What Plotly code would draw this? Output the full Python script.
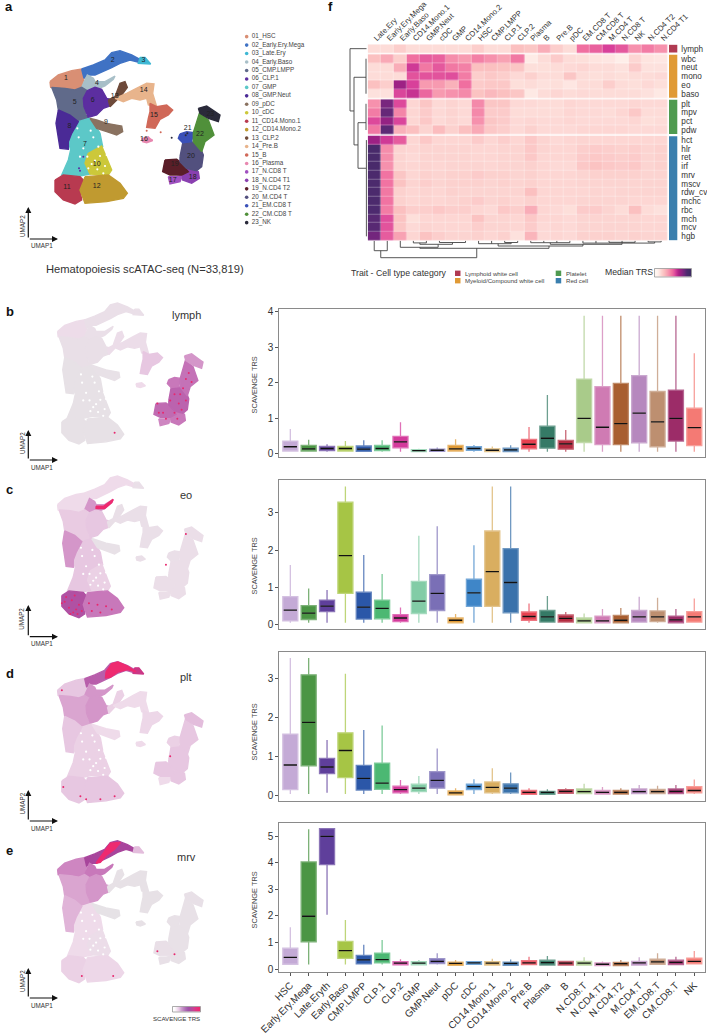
import plotly.graph_objects as go

W, H = 707, 1034
FONT = "Liberation Sans, Arial, sans-serif"

# ---------- panel a ----------
cluster_names = ["01_HSC","02_Early.Ery.Mega","03_Late.Ery","04_Early.Baso","05_CMP.LMPP","06_CLP.1","07_GMP","08_GMP.Neut","09_pDC","10_cDC","11_CD14.Mono.1","12_CD14.Mono.2","13_CLP.2","14_Pre.B","15_B","16_Plasma","17_N.CD8 T","18_N.CD4 T1","19_N.CD4 T2","20_M.CD4 T","21_EM.CD8 T","22_CM.CD8 T","23_NK"]
cluster_colors = ["#d98f74","#3f72c4","#3fb8d4","#a8bfc8","#606a8a","#5c2ea0","#5cc8c8","#4a2a96","#8a7260","#ccc83a","#b83a50","#c09a30","#6e4a3a","#e8b48c","#d06858","#e888b0","#a050c0","#8a40b0","#5a1e28","#52507e","#3a50b8","#50903a","#2a2a3a"]
cluster_outlines = [
 [(150,245),(175,225),(215,212),(245,207),(252,235),(245,262),(225,270),(195,265),(170,264),(152,262)],
 [(245,207),(280,195),(315,180),(335,158),(360,152),(395,165),(420,178),(420,188),(390,180),(360,190),(335,203),(310,215),(285,225),(262,225),(252,235)],
 [(420,172),(435,172),(452,192),(430,192),(415,190)],
 [(245,262),(262,225),(280,235),(285,245),(315,245),(345,228),(340,238),(315,258),(290,268),(265,275),(245,275)],
 [(155,262),(195,265),(225,270),(245,262),(262,272),(248,300),(258,345),(268,355),(235,365),(210,345),(175,330),(170,300)],
 [(262,272),(285,262),(305,268),(320,295),(340,300),(330,318),(310,325),(290,345),(265,352),(252,320),(250,295)],
 [(235,365),(268,355),(285,375),(300,400),(308,440),(270,460),(255,490),(270,522),(240,528),(185,525),(205,480),(212,450),(205,425),(215,400)],
 [(175,330),(210,345),(235,365),(215,400),(205,425),(205,448),(180,445),(175,410),(168,370)],
 [(270,355),(290,360),(320,370),(365,378),(368,395),(350,405),(320,395),(290,385)],
 [(265,460),(305,438),(335,510),(325,525),(270,522),(255,490)],
 [(165,540),(190,525),(240,530),(255,545),(240,570),(245,600),(225,612),(190,600),(165,575)],
 [(255,530),(325,525),(360,550),(382,580),(370,595),(320,605),(255,610),(240,570),(250,545)],
 [(325,300),(345,290),(360,250),(375,245),(382,262),(365,285),(345,305),(330,320)],
 [(345,295),(380,280),(415,262),(440,250),(462,252),(458,280),(470,320),(445,315),(440,295),(420,300),(395,295),(370,305)],
 [(450,310),(470,320),(500,315),(518,330),(505,345),(480,358),(465,385),(440,382),(445,355),(450,335)],
 [(425,415),(445,412),(458,422),(440,428),(428,425)],
 [(505,530),(530,530),(548,525),(540,545),(510,552)],
 [(548,520),(565,505),(595,515),(598,535),(575,550),(548,540)],
 [(495,480),(530,478),(540,485),(565,515),(545,525),(510,525),(488,515)],
 [(540,470),(548,430),(575,425),(600,440),(610,465),(605,500),(590,512),(560,505),(540,485)],
 [(540,402),(560,395),(580,398),(575,425),(548,428),(535,415)],
 [(580,398),(598,340),(625,360),(642,405),(615,425),(605,455),(580,425)],
 [(595,325),(620,318),(645,335),(660,345),(655,365),(625,355),(600,340)],
]
cluster_label_x = [198,338,430,291,224,278,255,208,318,290,201,290,344,431,462,432,518,578,524,573,563,600,631]
cluster_label_y = [236,180,182,250,308,300,433,379,366,494,562,559,290,271,346,417,541,533,494,470,386,403,343]
gap_points = [(262,470),(285,482),(300,468),(315,498),(265,505),(292,508),(250,445),(240,470),(236,412),(272,392),(310,520),(330,480),(280,412),(232,385),(295,440),(320,465),(275,492)]
stray_x = [237,240,250,515,562,557,445,455,482,440]
stray_y = [505,512,470,413,400,406,412,420,397,392]
stray_colors = ["#5c2ea0","#5c2ea0","#5c2ea0","#2a2a3a","#2a2a3a","#2a2a3a","#e888b0","#e888b0","#d06858","#d06858"]

# ---------- panels b-e UMAP shading ----------
lymph_cluster = [.16,.1,.1,.1,.08,.08,.03,.03,.05,.03,.03,.03,.15,.15,.3,.2,.55,.6,.65,.68,.6,.62,.5]
eo_cluster = [.2,.2,.1,.5,.28,.3,.3,.5,.05,.25,.75,.6,.08,.1,.1,.1,.12,.12,.12,.12,.1,.12,.12]
plt_cluster = [.3,.7,.9,.5,.45,.5,.25,.3,.2,.25,.3,.3,.25,.2,.22,.2,.2,.3,.3,.3,.25,.3,.35]
mrv_cluster = [.55,.8,.35,.6,.45,.5,.2,.4,.02,.15,.25,.22,.03,.03,.03,.03,.06,.05,.08,.05,.05,.05,.06]
eo_hot = [(285,250),(312,250),(345,228),(340,238),(315,258),(285,258)]
plt_hot = [(320,185),(340,158),(362,153),(395,166),(425,185),(395,178),(360,186),(335,203),(318,205)]
mrv_hot = [(285,225),(300,205),(335,160),(370,158),(350,180),(320,200),(300,222)]
lymph_specks = [(500,480),(520,510),(560,450),(575,480),(590,430),(600,470),(545,470),(530,530),(570,530),(585,500),(610,380),(600,400),(560,510),(505,510),(580,450),(620,410),(350,575)]
eo_specks = [(175,560),(190,580),(205,595),(220,600),(180,545),(200,555),(225,570),(215,585),(270,590),(300,595),(340,585),(260,565),(195,600),(235,590),(165,565),(320,575),(290,570),(210,540),(600,340),(530,440)]
plt_specks = [(170,560),(350,590),(300,600),(250,600),(545,460),(165,245),(230,590)]
mrv_specks = [(500,510),(560,520),(345,590),(235,590)]
umap_scale = [[0,"#e6e3e6"],[.2,"#efdbea"],[.4,"#e0b4d8"],[.6,"#c878ba"],[.8,"#a8459c"],[1,"#ee2a70"]]

# ---------- boxplots ----------
box_labels = ["HSC","Early.Ery.Mega","Late.Eryth","Early.Baso","CMP.LMPP","CLP.1","CLP.2","GMP","GMP.Neut","pDC","cDC","CD14.Mono.1","CD14.Mono.2","Pre.B","Plasma","B","N.CD8.T","N.CD4.T1","N.CD4.T2","M.CD4.T","EM.CD8.T","CM.CD8.T","NK"]
box_colors = ["#c4aad6","#4b9544","#5f3f9b","#a6c545","#2b57a8","#4cb873","#d43a9b","#82cca6","#7a6fb6","#e09a35","#3f86c8","#d9ae60","#3a72ab","#e8404f","#357a66","#b32b40","#a9cb8a","#cf7bb3","#a85e30","#b688be","#bd8f70","#9c2c68","#f47a74"]

lymph_q1 = [.07,.07,.08,.07,.06,.08,.16,.05,.06,.07,.09,.05,.05,.13,.15,.12,.31,.25,.25,.3,.19,.35,.22]
lymph_med = [.19,.13,.14,.14,.12,.14,.33,.08,.09,.13,.14,.09,.1,.26,.43,.27,.99,.74,.84,1.14,.89,.99,.73]
lymph_q3 = [.35,.23,.2,.2,.21,.23,.48,.11,.12,.23,.19,.13,.15,.4,.77,.37,2.1,1.89,1.98,2.2,1.75,1.79,1.28]
lymph_hi = [.69,.39,.26,.35,.37,.37,.88,.13,.17,.4,.24,.2,.23,.75,1.65,.66,3.89,3.89,3.89,3.89,3.89,3.89,2.83]
lymph_lo = [.05]*23

eo_q1 = [.1,.14,.35,.84,.15,.16,.08,.3,.38,.05,.49,.49,.32,.12,.07,.07,.05,.05,.05,.07,.08,.05,.07]
eo_med = [.39,.31,.5,1.85,.47,.44,.18,.63,.84,.12,.85,1.42,1.13,.22,.21,.17,.1,.1,.12,.21,.21,.13,.21]
eo_q3 = [.75,.51,.66,3.28,.87,.66,.27,1.16,1.34,.18,1.22,2.51,2.04,.34,.38,.26,.18,.23,.25,.38,.37,.23,.35]
eo_hi = [1.6,.97,.93,3.7,1.87,1.36,.46,2.38,2.64,.29,2.13,3.7,3.7,.57,.77,.34,.3,.42,.45,.75,.72,.42,.7]
eo_lo = [.05]*23

plt_q1 = [.16,.77,.57,.47,.15,.17,.08,.11,.2,.03,.16,.08,.08,.04,.04,.07,.06,.05,.05,.06,.06,.06,.08]
plt_med = [.79,1.88,.74,1.16,.45,.33,.16,.2,.4,.08,.24,.22,.2,.09,.09,.12,.11,.09,.09,.11,.11,.12,.14]
plt_q3 = [1.58,3.09,.96,1.61,.78,.84,.25,.3,.62,.13,.3,.36,.31,.14,.12,.16,.18,.14,.14,.18,.17,.18,.24]
plt_hi = [3.52,3.52,1.43,3.12,1.68,1.8,.41,.51,1.21,.2,.43,.71,.6,.2,.17,.2,.31,.23,.2,.28,.26,.28,.42]
plt_lo = [.05,.05,.08,.05,.05,.05,.05,.05,.05,.02,.05,.05,.05,.03,.03,.05,.05,.04,.04,.05,.05,.05,.05]

mrv_q1 = [.19,1.03,3.93,.41,.2,.24,.17,.17,.21,.15,.19,.16,.15,.18,.16,.16,.16,.14,.14,.16,.19,.18,.2]
mrv_med = [.45,1.99,4.99,.7,.35,.36,.23,.23,.3,.22,.24,.23,.22,.24,.25,.23,.23,.19,.21,.24,.28,.26,.3]
mrv_q3 = [.79,4.03,5.28,1.05,.52,.61,.29,.29,.4,.27,.29,.29,.27,.32,.34,.3,.3,.24,.26,.3,.38,.34,.42]
mrv_hi = [1.58,5.25,5.28,1.85,.92,1.1,.38,.35,.6,.35,.31,.4,.37,.47,.5,.3,.45,.29,.35,.45,.6,.47,.69]
mrv_lo = [.18,.18,2.05,.18,.18,.18,.16,.16,.18,.14,.18,.15,.14,.17,.15,.15,.15,.13,.13,.15,.18,.17,.19]

# ---------- heatmap ----------
heat_cols = ["Late.Ery","Early.Ery.Mega","Early.Baso","CD14.Mono.1","GMP.Neut","cDC","GMP","CD14.Mono.2","HSC","CMP.LMPP","CLP.1","CLP.2","Plasma","B","Pre.B","pDC","EM.CD8 T","CM.CD8 T","M.CD4 T","N.CD8 T","NK","N.CD4 T2","N.CD4 T1"]
group_lymph = ["lymph"]
group_white = ["wbc","neut","mono","eo","baso"]
group_platelet = ["plt","mpv","pct","pdw"]
group_red = ["hct","hlr","ret","irf","mrv","mscv","rdw_cv","mchc","rbc","mch","mcv","hgb"]
heat_lymph = [[1,1,1.5,1,1,1,1,1,1.5,1,1,2,1.8,2.5,1.5,1,4,4.3,5,4.5,3.2,3.7,3.2]]
heat_white = [
 [2,2.6,1.5,4,4.4,4.3,3.3,3,3.6,3.2,2.8,3.8,.4,1,1.6,1,.9,.7,.6,.3,1.2,.7,.6],
 [1,1,2.5,5.2,3.8,4.5,3.8,3.6,2,2,1.9,1.8,.9,.9,1,1.1,1.2,1,1,.8,1.6,.8,.8],
 [1,1,1,4.6,4.6,4.6,4.7,3.7,1.5,1.7,1.5,1.1,1.4,1,1,1.8,1,.9,1,.9,1,1,1.1],
 [2,1.5,6.3,5,3,3,2.4,4,1.6,1.7,1.7,.9,1,.8,.9,.6,1,1,1.5,1,.9,1.1,.9],
 [.8,.8,4.9,5.4,4.2,3,3.2,3.4,1.9,2.2,2,1.8,.5,1,1.2,1,1.1,1,1,1,1,.8,.5],
]
heat_platelet = [
 [3.2,7.1,4.8,1.2,1.8,1.1,1.3,1.1,3.4,1.8,1.8,1.1,1.1,1,1,1.2,1.1,1.1,1.1,1.1,1.2,1.1,1.1],
 [3.7,7.5,3.5,1.2,1.6,1.1,1.3,1.1,3.4,1.6,1.6,1,1,1,1,1.2,1.1,1.1,1,1.2,1.7,1,1],
 [4.8,6.5,4.9,1.2,1.7,1.1,1.3,1.1,3.2,1.8,1.6,1.1,1.2,1.1,1.1,1.2,1.1,1.1,1.1,1.1,1.2,.9,1],
 [3.8,7.7,2.4,2,1.3,2.1,1.4,2,2.6,1.7,1.5,1.1,1.4,1.1,1.1,1.1,1.2,1.2,1.2,1.2,1.1,1.1,1.1],
]
heat_red = [
 [6.3,5.2,4.4,1.2,1.7,1.2,1.2,1.2,1.6,1.2,1.5,1.2,1.7,1.3,1.1,1.2,1.3,1.2,1.2,1.2,1.2,1.2,1.2],
 [8.4,3.3,1.3,1.2,1.3,1.3,1.3,1.3,1.2,1.2,1.3,1.3,1.7,1.3,1.2,1.2,1.5,1.6,1.5,1.4,1.5,1.3,1.4],
 [8.4,3.3,1.3,1.1,1.3,1.3,1.3,1.3,1.2,1.2,1.3,1.3,1.7,1.2,1.2,1.2,1.6,1.7,1.6,1.5,1.6,1.3,1.4],
 [8.4,3.2,1.3,1.2,1.3,1.2,1.3,1.3,1.3,1.2,1.3,1.3,1.4,1.2,1.1,1.1,1.7,1.9,1.7,1.6,1.7,1.3,1.4],
 [8.2,3.9,1.8,1.2,1.4,1.3,1.4,1.4,1.6,1.4,1.4,1.3,1.4,1.2,1.2,1.2,1.3,1.4,1.4,1.4,1.4,1.3,1.3],
 [8.2,3.9,1.9,1.3,1.5,1.3,1.4,1.4,1.4,1.3,1.4,1.3,1.4,1.2,1.2,1.2,1.3,1.3,1.3,1.3,1.3,1.3,1.3],
 [8.2,3.8,1.4,1.2,1.3,1.2,1.4,1.3,1.3,1.3,1.3,1.3,2,1.2,1.2,1.2,1.2,1.3,1.2,1.3,1.3,1.3,1.3],
 [8.2,3.9,1.4,1.2,1.3,1.2,1.3,1.4,1.6,1.3,1.4,1.2,1.4,1.2,1.2,1.2,1.3,1.3,1.3,1.3,1.2,1.2,1.2],
 [8.1,3.7,2,1.5,1.5,1.7,1.5,1.5,1.2,1.1,1.7,1.5,2.5,1.2,1.1,.9,1.6,1.6,1.3,1,2,1,.8],
 [7.8,4.7,1.9,.9,1.2,1.2,1.2,1.2,1.9,1.3,1.3,1.2,1.7,1.2,1.2,1.1,1.3,1.3,1.3,1.3,1.3,1.2,1.2],
 [7.8,4.6,1.8,1.1,1.3,1.2,1.2,1.2,1.5,1.3,1.3,1.2,1.6,1.1,1.2,1.1,1.3,1.3,1.3,1.3,1.3,1.2,1.2],
 [7.2,4.4,2.8,1.2,1.9,1.5,1.3,1.3,1.4,1.2,1.4,.8,2.3,1.1,1.2,1.1,1.4,1.4,1.4,1.3,1.4,1.3,1.3],
]
group_colors = ["#b03a52","#e09a35","#4f9a50","#3a7fae"]
heat_scale_stops = [0,1,2,3,4,5,6,7,8,9]
heat_scale_colors = ["#fff5f0","#fddcd8","#fbc0c0","#f79ab0","#f06fa0","#d8409a","#ab1f85","#7c2580","#4f2a70","#3f2b63"]
heat_scale = [[s/9,c] for s,c in zip(heat_scale_stops,heat_scale_colors)]
trs_scale_colors = ["#ffffff","#f0dcee","#dcb8dc","#c490c8","#ae6cb4","#a050a8","#b84a9c","#d04090","#e43080","#ee2a70"]
trs_scale = [[s/9,c] for s,c in zip(heat_scale_stops,trs_scale_colors)]

# dendrograms: (height, row, height, row) and (col, height, col, height)
left_dendro = [
 (17,0,17,7.12),(17,0,0.5,0),(17,7.12,13,7.12),(13,3.27,13,11),(13,3.27,1,3.27),(13,11,9,11),
 (9,8.46,9,13.67),(9,8.46,1,8.46),(9,13.67,1,13.67),(1,1.15,1,5.15),(1,6.3,1,9.3),(0.6,10.45,0.6,21.45),
]
bottom_dendro = [
 (0.5,17,7.86,17),(0.5,17,0.5,10),(0,10,1,10),(0,10,0,0),(1,10,1,0),(7.86,17,7.86,7.6),
 (3.5,7.6,13.4,7.6),(3.5,7.6,3.5,6.6),(2,6.6,4.9,6.6),(2,6.6,2,0),(4.9,6.6,4.9,3.6),
 (3.5,3.6,6,3.6),(3.5,3.6,3.5,2.2),(3,2.2,4,2.2),(3,2.2,3,0),(4,2.2,4,0),(6,3.6,6,1.8),(5,1.8,7,1.8),(5,1.8,5,0),(7,1.8,7,0),
 (13.4,7.6,13.4,5.3),(9.5,5.3,16,5.3),(9.5,5.3,9.5,3),(8,3,10.5,3),(8,3,8,0),(10.5,3,10.5,1.8),(10,1.8,11,1.8),(10,1.8,10,0),(11,1.8,11,0),(9,3,9,0),
 (16,5.3,16,3.6),(13.5,3.6,19,3.6),(13.5,3.6,13.5,2),(12,2,15,2),(12,2,12,0),(15,2,15,0),(13,2,13,0),(14,2,14,0),
 (19,3.6,19,2.4),(16,2.4,21.5,2.4),(16,2.4,16,0),(21.5,2.4,21.5,1.2),(18,1.6,20,1.6),(18,1.6,18,0),(20,1.6,20,0),(17,2.4,17,0),(19,2.4,19,0),(21,1.2,22,1.2),(21,1.2,21,0),(22,1.2,22,0),
]
legend_items = ["Lymphoid white cell","Myeloid/Compound white cell","Platelet","Red cell"]

# ---------- helpers ----------
fig = go.Figure()
layout = dict(width=W, height=H, margin=dict(l=0,r=0,t=0,b=0,autoexpand=False), paper_bgcolor="white", plot_bgcolor="rgba(0,0,0,0)",
              showlegend=False, font=dict(family=FONT,color="#333"), annotations=[], shapes=[])
_n = [0]
def axes(x0,x1,y0,y1,xr,yr,xopts=None,yopts=None,share_x=None,share_y=None):
    _n[0]+=1; k=_n[0]
    base=dict(visible=False,fixedrange=True,automargin=False)
    xn="x%d"%k if k>1 else "x"; yn="y%d"%k if k>1 else "y"
    if share_x is None:
        d=dict(base,domain=[x0/W,x1/W],range=xr,anchor=yn); d.update(xopts or {})
        layout["xaxis%d"%k if k>1 else "xaxis"]=d
    else: xn=share_x
    if share_y is None:
        d=dict(base,domain=[1-y1/H,1-y0/H],range=yr,anchor=xn); d.update(yopts or {})
        layout["yaxis%d"%k if k>1 else "yaxis"]=d
    else: yn=share_y
    return xn,yn
def text(x,y,s,size,color="#333",anchor="center",angle=0,bold=False):
    layout["annotations"].append(dict(x=x/W,y=1-y/H,xref="paper",yref="paper",text="<b>%s</b>"%s if bold else s,showarrow=False,
        font=dict(size=size,color=color,family=FONT),xanchor=anchor,yanchor="middle",textangle=angle))
def arrow(x,y,tx,ty):
    layout["annotations"].append(dict(x=x/W,y=1-y/H,xref="paper",yref="paper",ax=tx-x,ay=ty-y,axref="pixel",ayref="pixel",text="",
        showarrow=True,arrowhead=2,arrowsize=1,arrowwidth=1.2,arrowcolor="#111",standoff=0,startstandoff=0))
def poly(pts,color,xa,ya):
    xs=[p[0] for p in pts]+[pts[0][0]]; ys=[p[1] for p in pts]+[pts[0][1]]
    fig.add_trace(go.Scatter(x=xs,y=ys,mode="lines",fill="toself",fillcolor=color,line=dict(color=color,width=1.4),
                             xaxis=xa,yaxis=ya,hoverinfo="skip",cliponaxis=False))
def mix(hexc,t):
    r,g,b=[int(hexc[i:i+2],16) for i in (1,3,5)]
    return "#%02x%02x%02x"%tuple(int(v+(255-v)*t) for v in (r,g,b))
def ramp(v):
    for (a,ca),(b,cb) in zip(umap_scale,umap_scale[1:]):
        if v<=b:
            f=(v-a)/(b-a)
            ra=[int(ca[i:i+2],16) for i in (1,3,5)]; rb=[int(cb[i:i+2],16) for i in (1,3,5)]
            return "#%02x%02x%02x"%tuple(int(p+(q-p)*f) for p,q in zip(ra,rb))
    return umap_scale[-1][1]

# ---------- panel a draw ----------
xa,ya = axes(0,320,0,290,[0,960],[870,0])
for pts,c in zip(cluster_outlines,cluster_colors): poly(pts,c,xa,ya)
fig.add_trace(go.Scatter(x=[p[0] for p in gap_points],y=[p[1] for p in gap_points],mode="markers",marker=dict(color="white",size=2.2),xaxis=xa,yaxis=ya,hoverinfo="skip"))
fig.add_trace(go.Scatter(x=stray_x,y=stray_y,mode="markers",marker=dict(color=stray_colors,size=2),xaxis=xa,yaxis=ya,hoverinfo="skip"))
fig.add_trace(go.Scatter(x=cluster_label_x,y=cluster_label_y,mode="text",text=[str(i+1) for i in range(23)],textfont=dict(size=7,color="#222",family=FONT),xaxis=xa,yaxis=ya,hoverinfo="skip"))
leg_y=[110+25.36*i for i in range(23)]
fig.add_trace(go.Scatter(x=[740]*23,y=leg_y,mode="markers",marker=dict(color=cluster_colors,size=3.6),xaxis=xa,yaxis=ya,hoverinfo="skip"))
fig.add_trace(go.Scatter(x=[755]*23,y=leg_y,mode="text",text=cluster_names,textposition="middle right",textfont=dict(size=6.3,color="#444",family=FONT),xaxis=xa,yaxis=ya,hoverinfo="skip"))
text(145,269,"Hematopoiesis scATAC-seq (N=33,819)",11.2)
arrow(28.3,207,28.3,239); arrow(58,239,28.3,239)
text(42,246,"UMAP1",6.3,"#333"); text(22,226,"UMAP2",6.3,"#333",angle=-90)
text(3,7,"a",13,"#111",anchor="left",bold=True)

# ---------- panels b-e ----------
panels=[("b","lymph",lymph_cluster,None,lymph_specks,303,444,315,311,460,430,467.5),
        ("c","eo",eo_cluster,eo_hot,eo_specks,476,617.7,495,489,636.7,605,643),
        ("d","plt",plt_cluster,plt_hot,plt_specks,661.7,803,676.7,673,821,790,828),
        ("e","mrv",mrv_cluster,mrv_hot,mrv_specks,840.7,982.7,856.7,850,998,968,1005.7)]
sx=142/498
for letter,name,vals,hot,specks,top,bot,ty,ly,oy,ay_,uy in panels:
    sy=(bot-top)/460
    xr=[120,680]; yr=[640,120]
    xa,ya=axes(61+(xr[0]-162)*sx,61+(xr[1]-162)*sx,top+(yr[1]-152)*sy,top+(yr[0]-152)*sy,xr,yr)
    for pts,v in zip(cluster_outlines,vals): poly(pts,ramp(v),xa,ya)
    if hot: poly(hot,umap_scale[-1][1],xa,ya)
    fig.add_trace(go.Scatter(x=[p[0] for p in gap_points],y=[p[1] for p in gap_points],mode="markers",marker=dict(color="white",size=2.2),xaxis=xa,yaxis=ya,hoverinfo="skip"))
    fig.add_trace(go.Scatter(x=[p[0] for p in specks],y=[p[1] for p in specks],mode="markers",marker=dict(color="#e8286e",size=2),xaxis=xa,yaxis=ya,hoverinfo="skip"))
    text(186,ty,name,11,"#333")
    text(4,ly,letter,13,"#111",anchor="left",bold=True)
    arrow(28.3,ay_,28.3,oy); arrow(58,oy,28.3,oy)
    text(42,uy,"UMAP1",6.3,"#333"); text(22,(ay_+oy)/2-2,"UMAP2",6.3,"#333",angle=-90)
xa,ya=axes(172.5,200.5,1006.5,1012,[-.5,9.5],[-.5,.5])
fig.add_trace(go.Heatmap(z=[heat_scale_stops],colorscale=trs_scale,zmin=0,zmax=9,zsmooth="best",showscale=False,xaxis=xa,yaxis=ya,hoverinfo="skip"))
layout["shapes"].append(dict(type="rect",xref="paper",yref="paper",x0=172.5/W,x1=200.5/W,y0=1-1012/H,y1=1-1006.5/H,line=dict(color="#888",width=0.7)))
text(176,1018.7,"SCAVENGE TRS",6.1,"#333")

# ---------- boxplots draw ----------
box_panels=[("lymph",lymph_q1,lymph_med,lymph_q3,lymph_lo,lymph_hi,309,457,[-.1,4.08],[0,1,2,3,4],385),
            ("eo",eo_q1,eo_med,eo_q3,eo_lo,eo_hi,480,629.3,[-.123,3.876],[0,1,2,3],566),
            ("plt",plt_q1,plt_med,plt_q3,plt_lo,plt_hi,651.7,800.7,[-.12,3.68],[0,1,2,3],732),
            ("mrv",mrv_q1,mrv_med,mrv_q3,mrv_lo,mrv_hi,822.7,971.7,[-.09,5.5],[0,1,2,3,4,5],900)]
for idx,(name,q1,med,q3,lo,hi,top,bot,yr,yt,tc) in enumerate(box_panels):
    last=idx==3
    xo=dict(visible=True,showgrid=False,zeroline=False,showline=True,mirror=True,linecolor="#8a8a8a",linewidth=1,
            tickmode="array",tickvals=list(range(23)) if last else [],ticktext=box_labels if last else [],
            tickangle=-45,tickfont=dict(size=10,color="#333",family=FONT),ticks="outside" if last else "",ticklen=3,tickcolor="#555")
    yo=dict(visible=True,showgrid=False,zeroline=False,showline=True,mirror=True,linecolor="#8a8a8a",linewidth=1,
            tickmode="array",tickvals=yt,tickfont=dict(size=10,color="#333",family=FONT),ticks="outside",ticklen=3,tickcolor="#555")
    xa,ya=axes(279.3,705.3,top,bot,[-.6,22.6],yr,xo,yo)
    for i,c in enumerate(box_colors):
        fig.add_trace(go.Box(x=[i],q1=[q1[i]],median=[med[i]],q3=[q3[i]],lowerfence=[lo[i]],upperfence=[hi[i]],width=.82,whiskerwidth=0,
                             fillcolor=c,line=dict(color=mix(c,.28),width=1.3),boxpoints=False,xaxis=xa,yaxis=ya,hoverinfo="skip"))
    fig.add_trace(go.Scatter(x=list(range(23)),y=med,mode="markers",marker=dict(symbol="line-ew",size=9.5,line=dict(color="#111",width=1.3)),xaxis=xa,yaxis=ya,hoverinfo="skip"))
    text(253.5,tc,"SCAVENGE TRS",7.4,"#444",angle=-90)
layout["boxmode"]="overlay"

# ---------- heatmap draw ----------
gap=.15
groups=[(group_lymph,heat_lymph),(group_white,heat_white),(group_platelet,heat_platelet),(group_red,heat_red)]
row_pos=[];r=0;group_pos=[]
for g,_ in groups:
    p=[r+i for i in range(len(g))]; group_pos.append(p); row_pos+=p; r=p[-1]+1+gap
all_traits=[t for g,_ in groups for t in g]
hx=dict(visible=True,showgrid=False,zeroline=False,showline=False,side="top",tickmode="array",tickvals=list(range(23)),ticktext=heat_cols,
        tickangle=-45,tickfont=dict(size=7.8,color="#333",family=FONT),ticks="",ticklabelstandoff=-1)
hy=dict(visible=True,showgrid=False,zeroline=False,showline=False,side="right",tickmode="array",tickvals=row_pos,ticktext=all_traits,
        tickfont=dict(size=8.2,color="#333",family=FONT),ticks="outside",ticklen=11,tickcolor="rgba(0,0,0,0)")
hxa,hya=axes(367.7,667.7,44.3,240.7,[-.5,22.5],[21.95,-.5],hx,hy)
for (g,m),p in zip(groups,group_pos):
    fig.add_trace(go.Heatmap(z=m,x=list(range(23)),y=p,colorscale=heat_scale,zmin=0,zmax=9,showscale=False,xgap=.3,ygap=.3,xaxis=hxa,yaxis=hya,hoverinfo="skip"))
    c=group_colors[[x[0] for x in groups].index(g)]
    layout["shapes"].append(dict(type="rect",xref="paper",yref=hya,x0=669/W,x1=677.3/W,y0=p[0]-.45,y1=p[-1]+.45,fillcolor=c,line=dict(width=0)))
def segs(lst,xa,ya):
    xs=[];ys=[]
    for a,b,c,d in lst: xs+=[a,c,None]; ys+=[b,d,None]
    fig.add_trace(go.Scatter(x=xs,y=ys,mode="lines",line=dict(color="#444",width=.9),xaxis=xa,yaxis=ya,hoverinfo="skip",cliponaxis=False))
lx,_=axes(348,367,44.3,240.7,[19,0],None,share_y=hya)
segs(left_dendro,lx,hya)
_,by=axes(367.7,667.7,240.7,259,None,[18.3,0],share_x=hxa)
segs(bottom_dendro,hxa,by)
# legend of f
text(349,272.7,"Trait - Cell type category",8.75,"#333",anchor="left")
leg_px=[(455,273.3),(455,280.7),(555.7,273.3),(555.7,280.7)]
for (lab,c,(x,y)) in zip(legend_items,group_colors,leg_px):
    layout["shapes"].append(dict(type="rect",xref="paper",yref="paper",x0=(x)/W,x1=(x+5.5)/W,y0=1-(y+2.7)/H,y1=1-(y-2.7)/H,fillcolor=c,line=dict(width=0)))
    text(x+8.3,y,lab,6.1,"#444",anchor="left")
text(602.7,272.5,"Median TRS",8.7,"#333",anchor="left")
xa,ya=axes(654.5,691.5,268.5,277,[-.5,9.5],[-.5,.5])
fig.add_trace(go.Heatmap(z=[heat_scale_stops],colorscale=heat_scale,zmin=0,zmax=9,zsmooth="best",showscale=False,xaxis=xa,yaxis=ya,hoverinfo="skip"))
layout["shapes"].append(dict(type="rect",xref="paper",yref="paper",x0=654.5/W,x1=691.5/W,y0=1-277/H,y1=1-268.5/H,line=dict(color="#888",width=.7)))
text(326,7,"f",13,"#111",anchor="left",bold=True)

fig.update_layout(**layout)
fig.write_html("out.html",config=dict(displayModeBar=False),post_script="document.body.style.margin='0';document.documentElement.style.overflow='hidden';")
